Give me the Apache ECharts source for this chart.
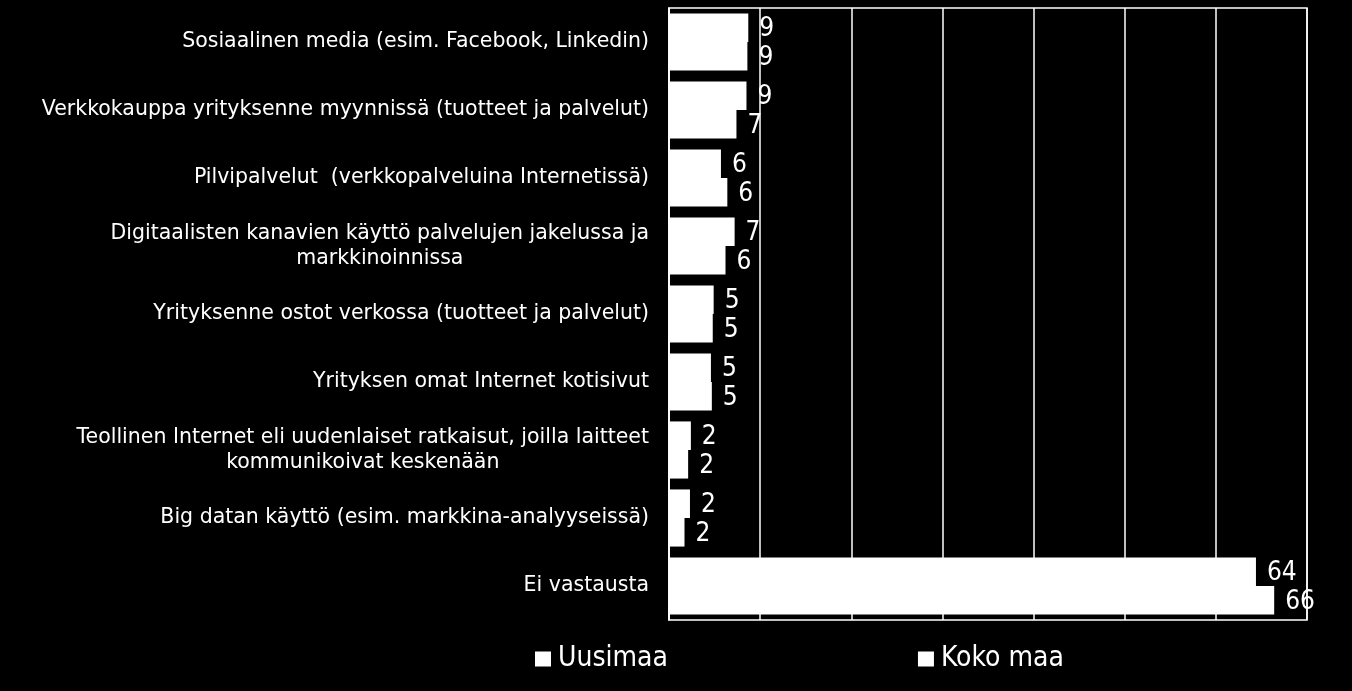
<!DOCTYPE html>
<html>
<head>
<meta charset="utf-8">
<script src="https://cdn.jsdelivr.net/npm/echarts@6/dist/echarts.min.js"></script>
<style>
html,body{margin:0;padding:0;background:#000;}
#chart{width:1352px;height:691px;}
</style>
</head>
<body>
<div id="chart"></div>
<script>
const categories = [
  "Sosiaalinen media (esim. Facebook, Linkedin)",
  "Verkkokauppa yrityksenne myynnissä (tuotteet ja palvelut)",
  "Pilvipalvelut  (verkkopalveluina Internetissä)",
  "Digitaalisten kanavien käyttö palvelujen jakelussa ja\nmarkkinoinnissa",
  "Yrityksenne ostot verkossa (tuotteet ja palvelut)",
  "Yrityksen omat Internet kotisivut",
  "Teollinen Internet eli uudenlaiset ratkaisut, joilla laitteet\nkommunikoivat keskenään",
  "Big datan käyttö (esim. markkina-analyyseissä)",
  "Ei vastausta"
];
const uusimaa = [8.7, 8.5, 5.7, 7.2, 4.9, 4.6, 2.4, 2.3, 64.4];
const kokoMaa = [8.6, 7.4, 6.4, 6.2, 4.8, 4.7, 2.1, 1.7, 66.4];
const seriesNames = ["Uusimaa", "Koko maa"];
const xTicks = [0, 10, 20, 30, 40, 50, 60, 70];

const FONT_C = "'DejaVu Sans Condensed', 'DejaVu Sans', sans-serif";
const FONT = "'DejaVu Sans', sans-serif";
const chart = echarts.init(document.getElementById('chart'));

const labelCfg = {
  show: true,
  position: 'right',
  distance: 11,
  offset: [0, 2],
  color: '#fff',
  fontFamily: FONT_C,
  fontSize: 26,
  formatter: p => Math.round(p.value)
};

chart.setOption({
  backgroundColor: '#000',
  animation: false,
  legend: {
    data: seriesNames,
    left: 535,
    top: 645,
    padding: 0,
    itemWidth: 16,
    itemHeight: 15,
    itemGap: 250,
    icon: 'rect',
    textStyle: { color: '#fff', fontFamily: FONT_C, fontSize: 28, padding: [0,0,0,2] }
  },
  grid: { left: 669, right: 45, top: 8, bottom: 71, containLabel: false, show: true, borderColor: '#fff', borderWidth: 1.5 },
  xAxis: {
    type: 'value',
    min: xTicks[0],
    max: xTicks[xTicks.length - 1],
    interval: 10,
    axisLabel: { show: false },
    axisLine: { show: false },
    axisTick: { show: false },
    splitLine: { show: true, lineStyle: { color: '#fff', width: 1.5 } }
  },
  yAxis: {
    type: 'category',
    inverse: true,
    data: categories,
    axisLine: { show: true, lineStyle: { color: '#fff', width: 1.5 } },
    axisTick: { show: false },
    axisLabel: {
      color: '#fff',
      margin: 20,
      align: 'right',
      fontFamily: FONT,
      fontSize: 20.5,
      lineHeight: 25,
      formatter: v => v.split('\n').map(l => '{c|' + l + '}').join('\n'),
      rich: { c: { align: 'center', color: '#fff', fontFamily: FONT, fontSize: 20.5, lineHeight: 25 } }
    }
  },
  series: [
    { name: seriesNames[0], type: 'bar', data: uusimaa, itemStyle: { color: '#fff' }, barGap: '0%', barCategoryGap: '16%', label: labelCfg },
    { name: seriesNames[1], type: 'bar', data: kokoMaa, itemStyle: { color: '#fff' }, barGap: '0%', barCategoryGap: '16%', label: labelCfg }
  ]
});
</script>
</body>
</html>
